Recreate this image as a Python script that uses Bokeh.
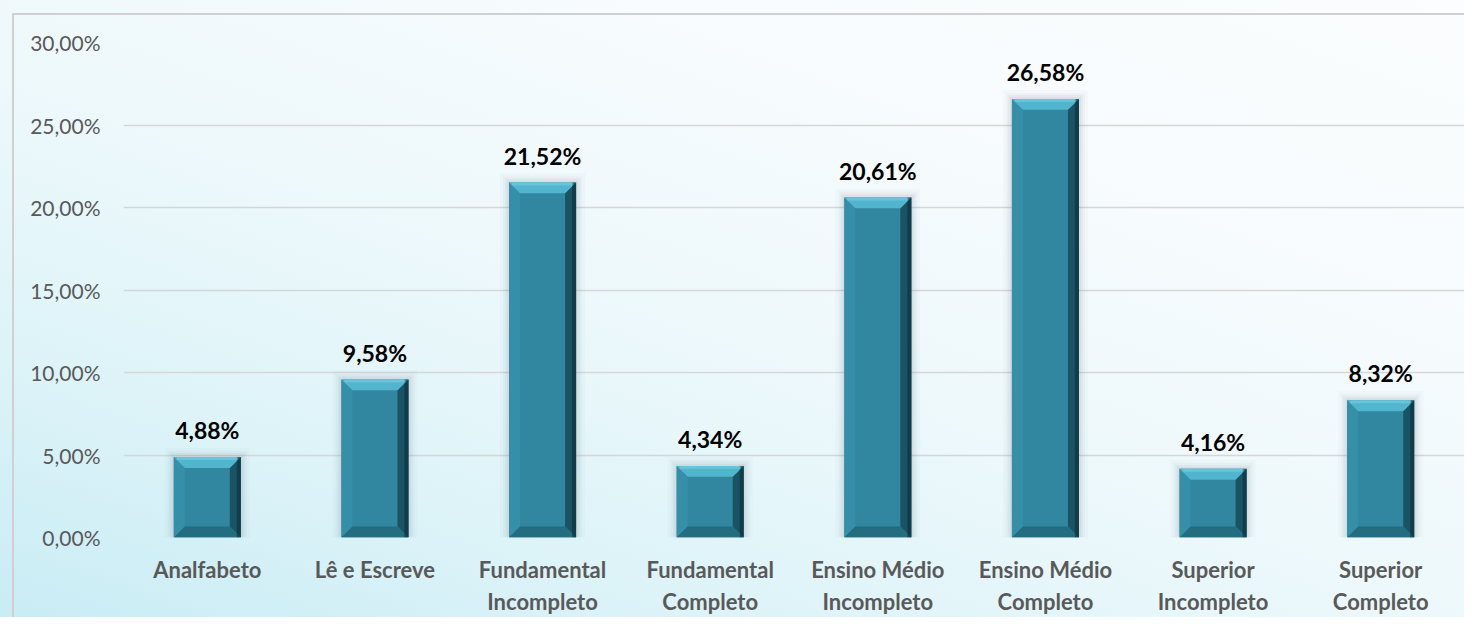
from bokeh.plotting import figure
from bokeh.models import Range1d, FixedTicker, CustomJSTickFormatter, ColumnDataSource
from bokeh.core.properties import value
from bokeh.embed import file_html
from bokeh.resources import INLINE

categories = ["Analfabeto", "Lê e Escreve", "Fundamental\nIncompleto", "Fundamental\nCompleto",
              "Ensino Médio\nIncompleto", "Ensino Médio\nCompleto", "Superior\nIncompleto", "Superior\nCompleto"]
values = [4.88, 9.58, 21.52, 4.34, 20.61, 26.58, 4.16, 8.32]
y_ticks = [0, 5, 10, 15, 20, 25, 30]

W, H = 1464, 617
BL, BR, BT, BB = 123, 0, 42, 76
p = figure(width=W, height=H, output_backend="svg", toolbar_location=None,
           x_range=Range1d(-0.5, len(categories) - 0.5), y_range=Range1d(0, 30),
           min_border_left=BL, min_border_right=BR, min_border_top=BT, min_border_bottom=BB)
p.background_fill_alpha = 0
p.border_fill_alpha = 0
p.outline_line_color = None
p.styles = {"background": (
    "linear-gradient(#d0d0d0, #d0d0d0) 12px 13px / 2px 100% no-repeat, "
    "linear-gradient(#d0d0d0, #d0d0d0) 12px 13px / 100% 2px no-repeat, "
    "linear-gradient(20deg, #c9ecf5 0%, #dcf3f8 22%, #ecf8fb 45%, #f6fbfd 70%, #fbfdfe 100%)")}

fw = W - BL - BR
fh = H - BT - BB
pxx = (len(categories)) / fw
pxy = 30.0 / fh

xs = list(range(len(categories)))
bw = 0.4
bx = 11 * pxx
by = 11 * pxy

# soft shadows
for k, a in [(9, 0.03), (6, 0.045), (4, 0.06), (2, 0.08)]:
    p.quad(left=[x - bw / 2 - k * pxx for x in xs], right=[x + bw / 2 + k * pxx for x in xs],
           bottom=[0] * len(xs), top=[v + k * pxy for v in values],
           fill_color="#6f7b80", fill_alpha=a, line_color=None)

# bar faces
p.quad(left=[x - bw / 2 for x in xs], right=[x + bw / 2 for x in xs], bottom=[0] * len(xs),
       top=values, fill_color="#30879f", line_color=None)

top_xs, top_ys, bot_xs, bot_ys, l_xs, l_ys, r_xs, r_ys = [], [], [], [], [], [], [], []
for x, v in zip(xs, values):
    L, R, T, B = x - bw / 2, x + bw / 2, v, 0
    top_xs.append([L, R, R - bx, L + bx]); top_ys.append([T, T, T - by, T - by])
    bot_xs.append([L, R, R - bx, L + bx]); bot_ys.append([B, B, B + by, B + by])
    l_xs.append([L, L + bx, L + bx, L]); l_ys.append([B, B + by, T - by, T])
    r_xs.append([R, R - bx, R - bx, R]); r_ys.append([B, B + by, T - by, T])
p.patches(l_xs, l_ys, fill_color="#358fa8", line_color=None)
p.patches(r_xs, r_ys, fill_color="#1a5364", line_color=None)
p.patches(bot_xs, bot_ys, fill_color="#246c80", line_color=None)
p.patches(top_xs, top_ys, fill_color="#52b5cf", line_color=None)
# dark outer right edge and light top rim
p.quad(left=[x + bw / 2 - 4 * pxx for x in xs], right=[x + bw / 2 for x in xs],
       bottom=[0] * len(xs), top=values, fill_color="#0b2a34", fill_alpha=0.55, line_color=None)
p.quad(left=[x - bw / 2 + 3 * pxx for x in xs], right=[x + bw / 2 - 3 * pxx for x in xs],
       bottom=[v - 3 * pxy for v in values], top=values, fill_color="#7fd3e6", fill_alpha=0.5, line_color=None)

labels = [f"{v:.2f}".replace(".", ",") + "%" for v in values]
src = ColumnDataSource(dict(x=xs, y=[v + 13 * pxy for v in values], t=labels))
p.text(x="x", y="y", text="t", source=src, text_align="center", text_baseline="bottom",
       text_font=value("Lato"), text_font_style="bold", text_font_size="23px", text_color="#000000")

p.xaxis.ticker = FixedTicker(ticks=xs)
p.xaxis.major_label_overrides = {i: c for i, c in enumerate(categories)}
p.xaxis.major_label_text_font = "Lato"
p.xaxis.major_label_text_font_style = "bold"
p.xaxis.major_label_text_font_size = "22px"
p.xaxis.major_label_text_color = "#595959"
p.xaxis.major_label_standoff = 12
p.xaxis.axis_line_color = None
p.xaxis.major_tick_line_color = None
p.xaxis.minor_tick_line_color = None

p.yaxis.ticker = FixedTicker(ticks=y_ticks)
p.yaxis.formatter = CustomJSTickFormatter(code="return tick.toFixed(2).replace('.', ',') + '%';")
p.yaxis.major_label_text_font = "Lato"
p.yaxis.major_label_text_font_size = "21px"
p.yaxis.major_label_text_color = "#595959"
p.yaxis.major_label_standoff = 17
p.yaxis.axis_line_color = None
p.yaxis.major_tick_line_color = None
p.yaxis.minor_tick_line_color = None

p.xgrid.grid_line_color = None
p.ygrid.grid_line_color = "#d6d6d6"
p.ygrid.grid_line_width = 1.5

open("out.html", "w").write(file_html(p, INLINE))
